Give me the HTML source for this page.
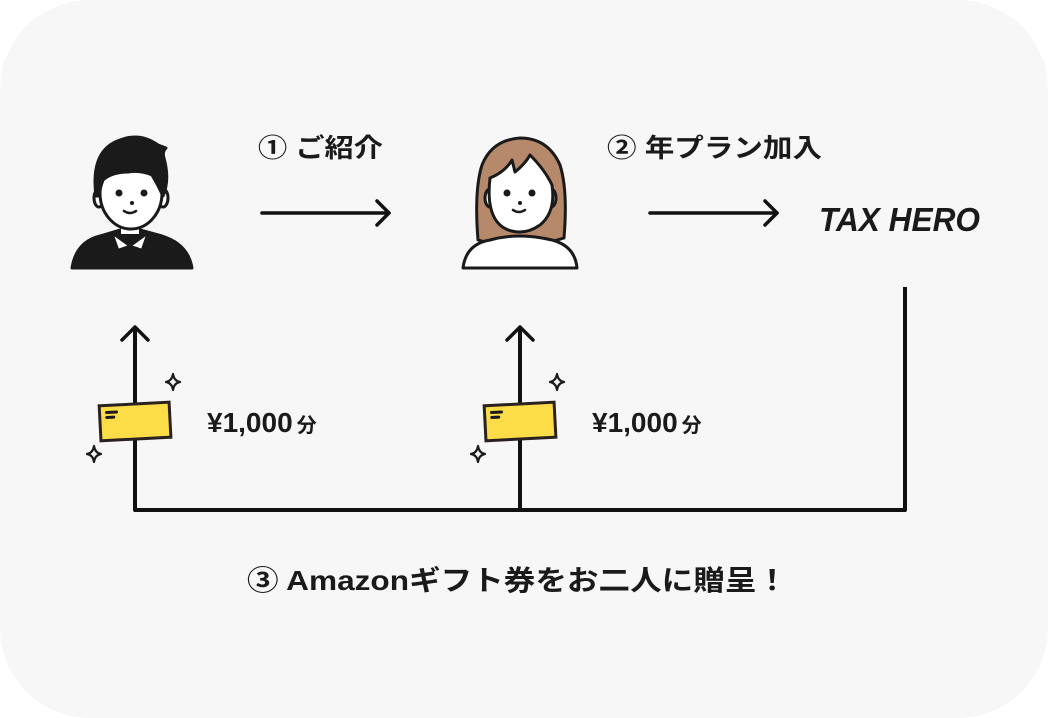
<!DOCTYPE html>
<html><head><meta charset="utf-8"><style>
html,body{margin:0;padding:0;background:#fff;}
svg{display:block}
text{font-family:"Liberation Sans","Noto Sans CJK JP",sans-serif;font-weight:bold;fill:#1a1a1a}
</style></head><body>
<svg width="1048" height="718" viewBox="0 0 1048 718" xmlns="http://www.w3.org/2000/svg">
<rect x="0" y="0" width="1048" height="718" rx="90" fill="#f7f7f7"/>

<!-- Man -->
<g stroke="#1a1a1a" stroke-width="3" stroke-linejoin="round">
  <path d="M72,268 Q76,242 100,236 L120,230 L140,230 L162,236 Q188,244 192,268 Z" fill="#1a1a1a"/>
  <path d="M112,233 L130,246 L118,250 Z M148,233 L130,246 L142,250 Z" fill="#fff" stroke-width="2.5"/>
  <rect x="121" y="218" width="18" height="16" fill="#fff" stroke="none"/>
  <ellipse cx="99" cy="198" rx="5" ry="9" fill="#fff"/>
  <ellipse cx="163" cy="198" rx="5" ry="9" fill="#fff"/>
  <ellipse cx="131" cy="193" rx="31" ry="36" fill="#fff"/>
  <path d="M96,196 Q90,150 120,140 Q140,132 158,145 L166,148 Q162,152 164,158 Q170,180 163,196 Q158,185 152,175 Q140,170 128,172 Q112,172 103,180 Q100,188 99,196 Z" fill="#1a1a1a"/>
</g>
<circle cx="119" cy="193" r="3.5" fill="#1a1a1a"/>
<circle cx="144" cy="193" r="3.5" fill="#1a1a1a"/>
<circle cx="132" cy="203" r="2" fill="#1a1a1a"/>
<path d="M124,211 Q130,215 136,211" stroke="#1a1a1a" stroke-width="2.5" fill="none" stroke-linecap="round"/>

<!-- Woman -->
<g stroke="#1a1a1a" stroke-width="3" stroke-linejoin="round">
  <path d="M478,240 Q474,190 482,165 Q492,140 520,138 Q548,138 560,165 Q568,190 564,238 Q540,246 520,244 Q498,246 478,240 Z" fill="#b5896a"/>
  <path d="M463,268 Q466,244 490,240 Q505,236 520,236 Q535,236 552,240 Q575,246 577,268 Z" fill="#fff"/>
  <ellipse cx="490" cy="198" rx="5" ry="9" fill="#fff"/>
  <ellipse cx="551" cy="198" rx="5" ry="9" fill="#fff"/>
  <path d="M490,178 Q505,172 512,160 L515,172 Q525,164 530,155 Q545,170 552,185 Q556,212 540,225 Q530,232 520,232 Q508,232 500,225 Q486,212 490,178 Z" fill="#fff"/>
</g>
<circle cx="507" cy="193" r="3.5" fill="#1a1a1a"/>
<circle cx="532" cy="193" r="3.5" fill="#1a1a1a"/>
<circle cx="520" cy="203" r="2" fill="#1a1a1a"/>
<path d="M513,210 Q519,214 525,210" stroke="#1a1a1a" stroke-width="2.5" fill="none" stroke-linecap="round"/>

<!-- Top arrows -->
<g stroke="#111" stroke-width="3.5" fill="none" stroke-linecap="round" stroke-linejoin="round">
  <line x1="262" y1="213" x2="389" y2="213"/>
  <polyline points="377,201 389,213 377,225"/>
  <line x1="650" y1="213" x2="777" y2="213"/>
  <polyline points="765,201 777,213 765,225"/>
</g>
<g stroke="#111" stroke-width="4" fill="none" stroke-linejoin="round">
  <polyline points="135,327 135,510 905,510 905,287"/>
  <line x1="520" y1="327" x2="520" y2="510"/>
</g>
<g stroke="#111" stroke-width="3.5" fill="none" stroke-linecap="round" stroke-linejoin="round">
  <polyline points="122,340 135,327 148,340"/>
  <polyline points="507,340 520,327 533,340"/>
</g>

<text x="258" y="157" font-size="26" textLength="125" lengthAdjust="spacingAndGlyphs">① ご紹介</text>
<text x="607" y="157" font-size="26" textLength="215" lengthAdjust="spacingAndGlyphs">② 年プラン加入</text>
<text x="819" y="231" font-size="33" font-style="italic" textLength="161" lengthAdjust="spacingAndGlyphs" style="font-weight:900">TAX HERO</text>

<!-- Cards -->
<g id="c1">
  <g transform="rotate(-3 135 421)">
    <rect x="100" y="404" width="70" height="35" fill="#fcdc47" stroke="#2a2220" stroke-width="3"/>
    <line x1="107" y1="411" x2="117" y2="411" stroke="#1a1a1a" stroke-width="3" stroke-linecap="round"/>
    <line x1="107" y1="416" x2="114" y2="416" stroke="#1a1a1a" stroke-width="3" stroke-linecap="round"/>
  </g>
</g>
<use href="#c1" x="385" y="0"/>
<g fill="none" stroke="#1a1a1a" stroke-width="2.2" stroke-linejoin="round">
  <path id="s1" d="M173,374 Q174,381 180,382 Q174,383 173,390 Q172,383 166,382 Q172,381 173,374 Z"/>
  <use href="#s1" x="-79" y="72"/>
  <use href="#s1" x="384" y="0"/>
  <use href="#s1" x="305" y="72"/>
</g>

<text x="207" y="432" font-size="28">¥1,000<tspan font-size="20" dx="4">分</tspan></text>
<text x="592" y="432" font-size="28">¥1,000<tspan font-size="20" dx="4">分</tspan></text>

<text x="247" y="590" font-size="28" textLength="541" lengthAdjust="spacingAndGlyphs">③ Amazonギフト券をお二人に贈呈！</text>
</svg>
</body></html>
